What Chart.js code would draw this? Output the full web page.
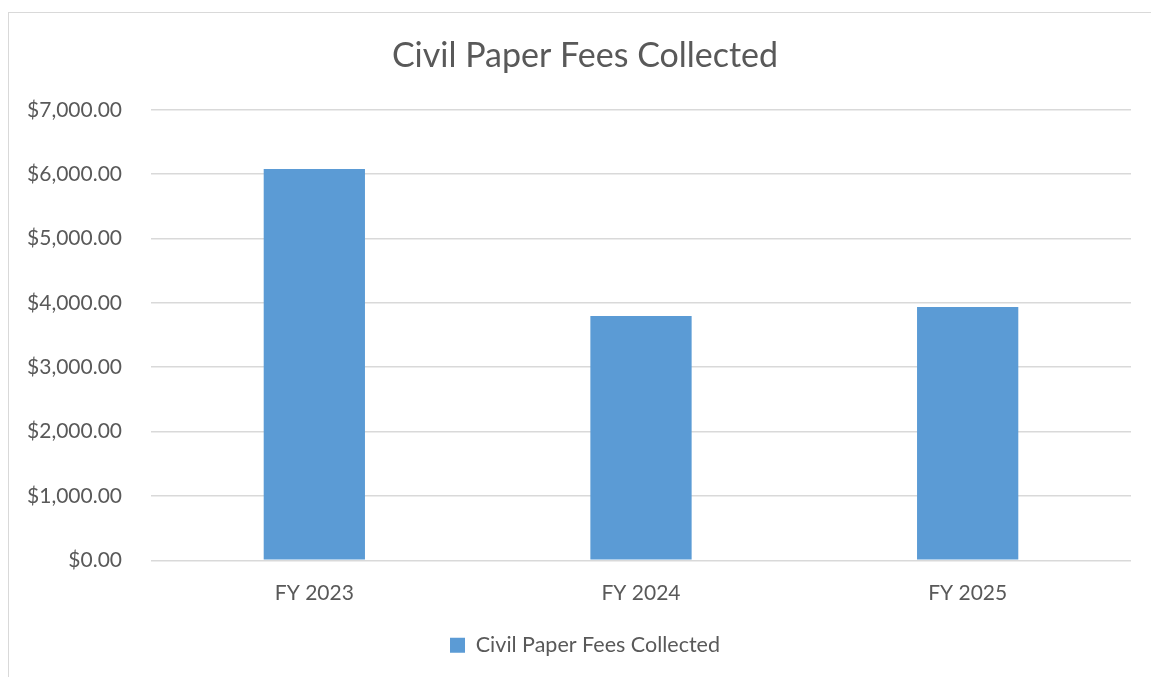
<!DOCTYPE html>
<html>
<head>
<meta charset="utf-8">
<script src="https://cdn.jsdelivr.net/npm/chart.js@4.4.0/dist/chart.umd.min.js"></script>
<style>
  html, body { margin: 0; padding: 0; background: #fff; }
  #wrap { position: relative; width: 1151px; height: 677px; overflow: hidden; }
  #frame { position: absolute; left: 8px; top: 12px; width: 1160px; height: 700px;
           border-left: 1px solid #d9d9d9; border-top: 1px solid #d9d9d9; }
  canvas { position: absolute; left: 0; top: 0; }
</style>
</head>
<body>
<div id="wrap">
  <div id="frame"></div>
  <canvas id="feesChart" width="1151" height="677"></canvas>
</div>
<script>
const categories = ['FY 2023', 'FY 2024', 'FY 2025'];
const feesCollected = [6080, 3795, 3935];
const seriesName = 'Civil Paper Fees Collected';

const fontFamily = 'Lato, "Open Sans", sans-serif';
const textColor = '#595959';

// the y labels reach left of the layout padding, so widen their clip box
const unclipYLabels = {
    id: 'unclipYLabels',
    afterLayout: function (chart) {
        chart.scales.y.left = 0;
    }
};

const ctx = document.getElementById('feesChart').getContext('2d');
const feesChart = new Chart(ctx, {
    type: 'bar',
    data: {
        labels: categories,
        datasets: [{
            label: seriesName,
            data: feesCollected,
            backgroundColor: '#5B9BD5',
            borderWidth: 0,
            categoryPercentage: 1,
            barPercentage: 0.31
        }]
    },
    plugins: [unclipYLabels],
    options: {
        responsive: false,
        animation: false,
        layout: {
            padding: { left: 39, right: 20, top: 0, bottom: 11 }
        },
        plugins: {
            title: {
                display: true,
                text: 'Civil Paper Fees Collected',
                color: textColor,
                font: { family: fontFamily, size: 34, weight: 'normal' },
                padding: { top: 36, bottom: 33 }
            },
            legend: {
                position: 'bottom',
                labels: {
                    color: textColor,
                    font: { family: fontFamily, size: 21.5 },
                    boxWidth: 15,
                    boxHeight: 15,
                    padding: 17
                }
            },
            tooltip: { enabled: false }
        },
        scales: {
            x: {
                grid: { display: false },
                border: { display: false },
                ticks: {
                    color: textColor,
                    font: { family: fontFamily, size: 21 },
                    padding: 12
                }
            },
            y: {
                min: 0,
                max: 7000,
                afterFit: function (scale) {
                    scale.width = 112;
                },
                grid: { color: '#d9d9d9', lineWidth: 1.5, drawTicks: false },
                border: { display: false },
                ticks: {
                    stepSize: 1000,
                    color: textColor,
                    font: { family: fontFamily, size: 21 },
                    padding: 29,
                    callback: function (value) {
                        return '$' + value.toLocaleString('en-US', {
                            minimumFractionDigits: 2,
                            maximumFractionDigits: 2
                        });
                    }
                }
            }
        }
    }
});
</script>
</body>
</html>
